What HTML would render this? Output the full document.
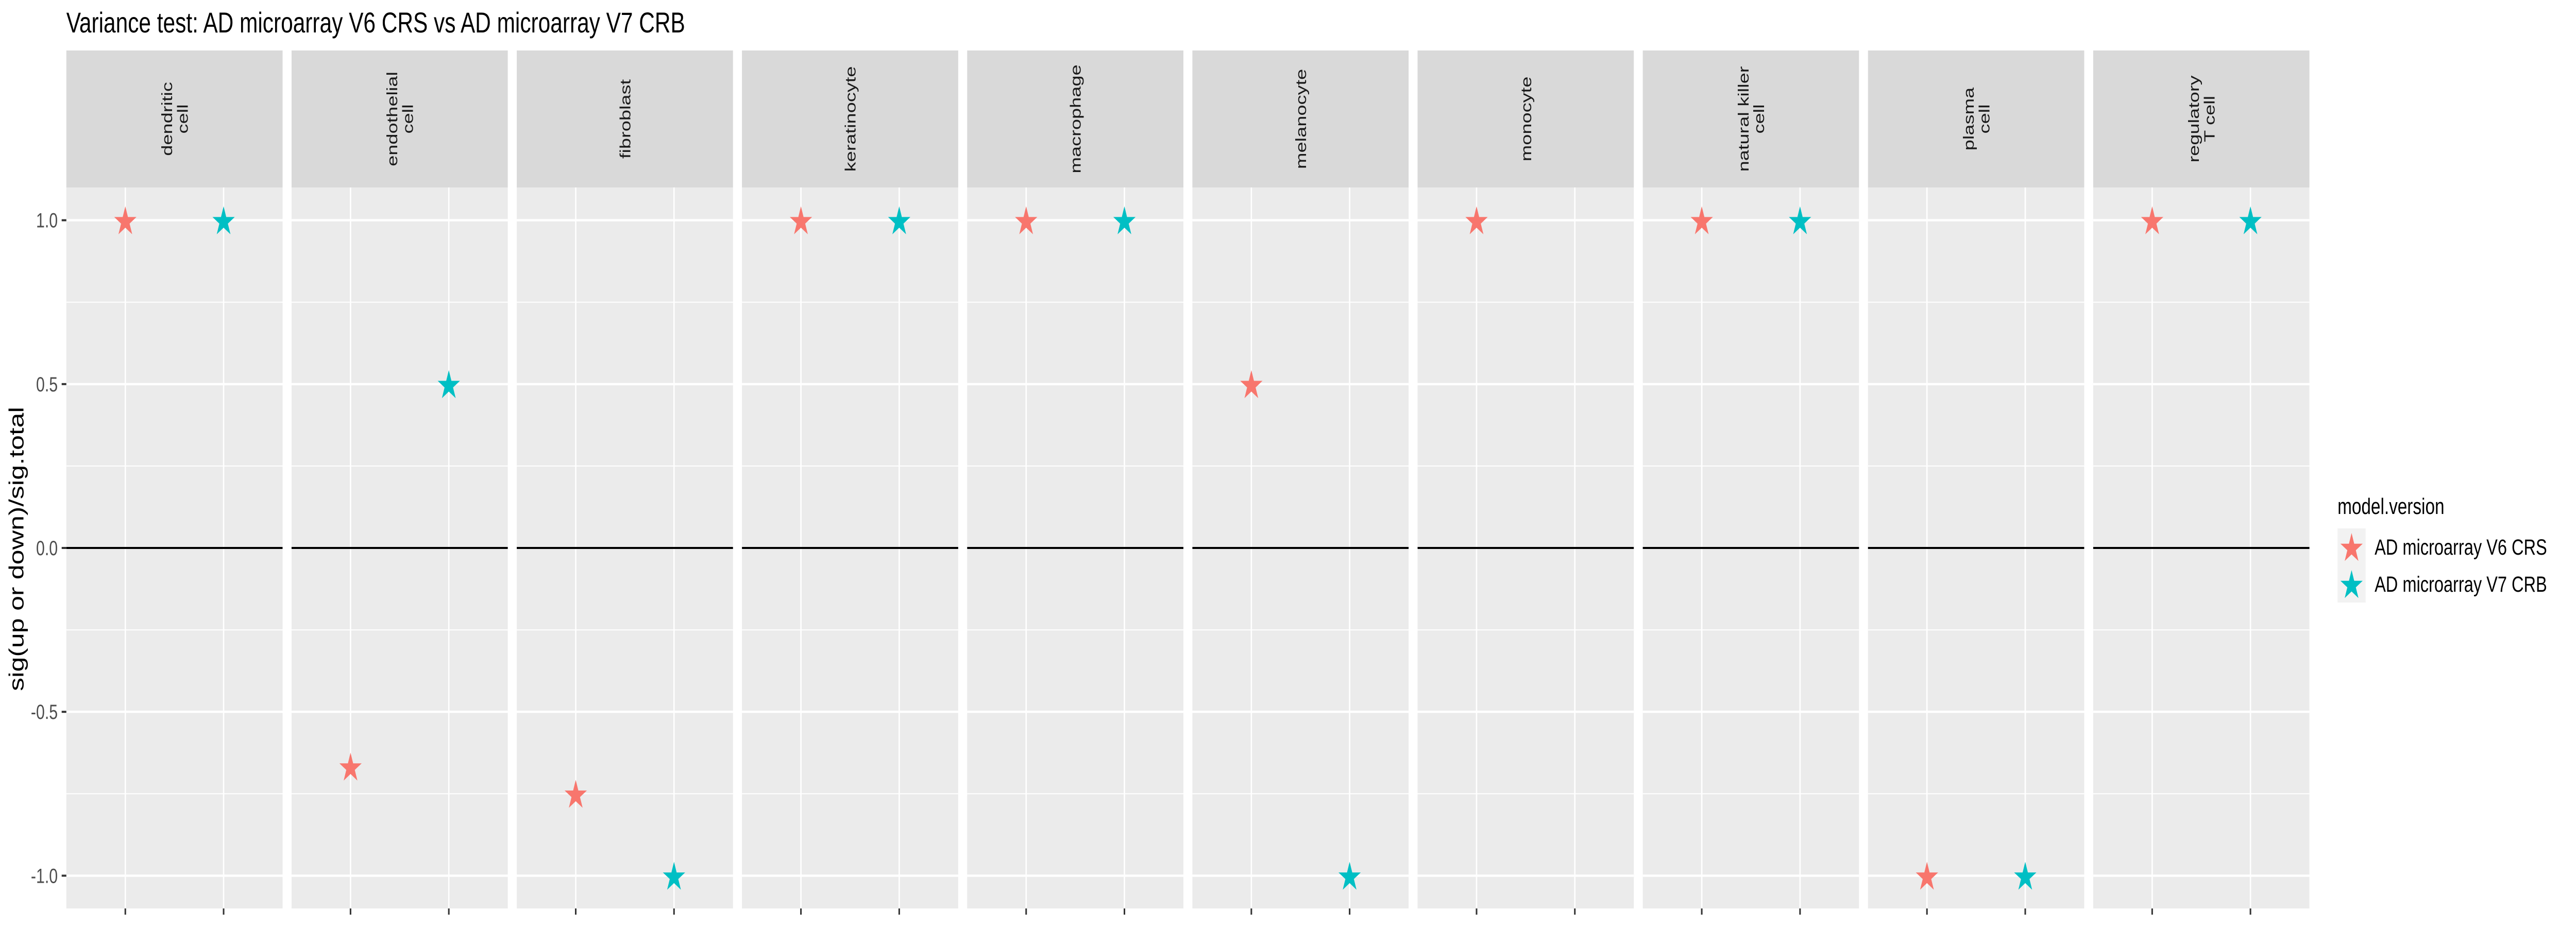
<!DOCTYPE html>
<html><head><meta charset="utf-8"><style>
html,body{margin:0;padding:0;background:#fff;width:100%;height:100%;overflow:hidden;}
svg{display:block;width:100vw;height:100vh;font-family:"Liberation Sans","DejaVu Sans",sans-serif;}
</style></head><body>
<svg id="chart" viewBox="0 0 6600 1800" preserveAspectRatio="none" xmlns="http://www.w3.org/2000/svg">
<text x="170" y="63" font-size="56" fill="#000">Variance test: AD microarray V6 CRS vs AD microarray V7 CRB</text>
<text transform="translate(60,1066) rotate(-90)" text-anchor="middle" font-size="52" fill="#000">sig(up or down)/sig.total</text>
<g id="panels"></g>
<g id="yaxis"></g>
<g>
<text x="5989" y="998" font-size="44" fill="#000">model.version</text>
<rect x="5989" y="1026" width="72" height="144" fill="#F2F2F2"/>
<g id="legkeys"></g>
</g>
</svg>
<script>
const categories = ["dendritic\ncell","endothelial\ncell","fibroblast","keratinocyte","macrophage","melanocyte","monocyte","natural killer\ncell","plasma\ncell","regulatory\nT cell"];
const seriesNames = ["AD microarray V6 CRS","AD microarray V7 CRB"];
const seriesColors = ["#F8766D","#00BFC4"];
const v6Values = [1, -0.667, -0.75, 1, 1, 0.5, 1, 1, -1, 1];
const v7Values = [1, 0.5, -1, 1, 1, -1, null, 1, -1, 1];
const yTicks = [1.0, 0.5, 0.0, -0.5, -1.0];
const yTickLabels = ["1.0","0.5","0.0","-0.5","-1.0"];
const yMinor = [0.75, 0.25, -0.25, -0.75];

const NS = "http://www.w3.org/2000/svg";
const P0 = 170, PITCH = 577, PW = 554, PTOP = 364, PBOT = 1764, STOP = 98;
function yScale(v){ return PTOP + (1.1 - v) / 2.2 * (PBOT - PTOP); }
function xScale(i, k){ return P0 + i*PITCH + (k + 1 - 0.4) / 2.2 * PW; }
function mk(tag, attrs, parent){ const e = document.createElementNS(NS, tag); for (const a in attrs) e.setAttribute(a, attrs[a]); parent.appendChild(e); return e; }
function starPts(cx, cy, R){
  const r = R*0.382, pts = [];
  for (let j=0;j<10;j++){ const ang = -Math.PI/2 + j*Math.PI/5; const rr = j%2===0?R:r; pts.push((cx+rr*Math.cos(ang)).toFixed(1)+","+(cy+rr*Math.sin(ang)).toFixed(1)); }
  return pts.join(" ");
}
const panels = document.getElementById("panels");
const series = [v6Values, v7Values];
categories.forEach((cat, i) => {
  const x0 = P0 + i*PITCH;
  const g = mk("g", {}, panels);
  
  
  const strip = mk("rect", {x:x0, y:STOP, width:PW, height:PTOP-STOP, fill:"#D9D9D9"}, g);
  
  
  const lines = cat.split("\n");
  const cx = x0 + PW/2, cy = (STOP+PTOP)/2;
  lines.forEach((ln, li) => {
    const off = (li - (lines.length-1)/2) * 40 + 14;
    const t = mk("text", {transform:"translate("+(cx+off)+","+cy+") rotate(-90)", "text-anchor":"middle", "font-size":"38", fill:"#1A1A1A"}, g);
    t.textContent = ln;
    
    
  });
  const bg = mk("rect", {x:x0, y:PTOP, width:PW, height:PBOT-PTOP, fill:"#EBEBEB"}, g);
  
  
  yMinor.forEach(v => { const l = mk("line", {x1:x0, x2:x0+PW, y1:yScale(v), y2:yScale(v), stroke:"#fff", "stroke-width":2}, g);   });
  yTicks.forEach(v => { const l = mk("line", {x1:x0, x2:x0+PW, y1:yScale(v), y2:yScale(v), stroke:"#fff", "stroke-width":4.5}, g);   });
  [0,1].forEach(k => {
    const xx = xScale(i,k);
    const l = mk("line", {x1:xx, x2:xx, y1:PTOP, y2:PBOT, stroke:"#fff", "stroke-width":3.5}, g);
    
    
    const tk = mk("line", {x1:xx, x2:xx, y1:PBOT, y2:PBOT+12, stroke:"#333", "stroke-width":4}, g);
    
    
  });
  const z = mk("line", {x1:x0, x2:x0+PW, y1:yScale(0), y2:yScale(0), stroke:"#000", "stroke-width":4}, g);
  
  
  series.forEach((vals, k) => {
    const v = vals[i];
    if (v === null || v === undefined) return;
    const s = mk("polygon", {points: starPts(xScale(i,k), yScale(v)+3, 30), fill: seriesColors[k]}, g);
    
    
  });
});
const ya = document.getElementById("yaxis");
yTicks.forEach((v, j) => {
  const tk = mk("line", {x1:158, x2:170, y1:yScale(v), y2:yScale(v), stroke:"#333", "stroke-width":4}, ya);
  
  
  const t = mk("text", {x:148, y:yScale(v)+14, "text-anchor":"end", "font-size":"40", fill:"#4D4D4D"}, ya);
  t.textContent = yTickLabels[j];
  
  
});
const lk = document.getElementById("legkeys");
seriesNames.forEach((nm, k) => {
  const cy = 1062 + k*72;
  const s = mk("polygon", {points: starPts(6025, cy+3, 30), fill: seriesColors[k]}, lk);
  
  
  const t = mk("text", {x:6084, y:cy+15, "font-size":"43", fill:"#000"}, lk);
  t.textContent = nm;
  
  
});
</script>
</body></html>
